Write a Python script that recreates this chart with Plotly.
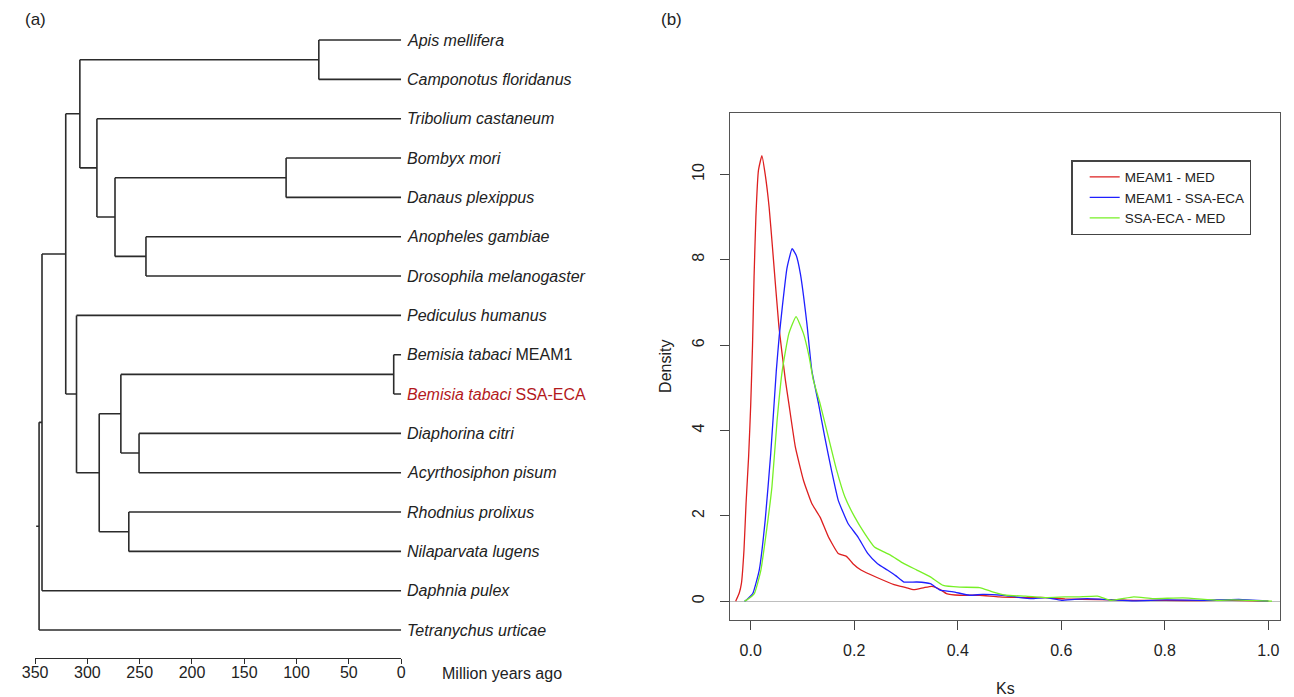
import plotly.graph_objects as go

W, H = 1294, 697
OFF = 8  # page body margin shifts the figure by 8px
FONT = "Liberation Sans, Arial, sans-serif"
INK = "#222222"

# ---- (a) species tree ----
tip_names = ["Apis mellifera", "Camponotus floridanus", "Tribolium castaneum",
             "Bombyx mori", "Danaus plexippus", "Anopheles gambiae",
             "Drosophila melanogaster", "Pediculus humanus",
             "Bemisia tabaci MEAM1", "Bemisia tabaci SSA-ECA",
             "Diaphorina citri", "Acyrthosiphon pisum", "Rhodnius prolixus",
             "Nilaparvata lugens", "Daphnia pulex", "Tetranychus urticae"]
tip_labels = ["<i>Apis mellifera</i>", "<i>Camponotus floridanus</i>",
              "<i>Tribolium castaneum</i>", "<i>Bombyx mori</i>",
              "<i>Danaus plexippus</i>", "<i>Anopheles gambiae</i>",
              "<i>Drosophila melanogaster</i>", "<i>Pediculus humanus</i>",
              "<i>Bemisia tabaci</i> MEAM1", "<i>Bemisia tabaci</i> SSA-ECA",
              "<i>Diaphorina citri</i>", "<i>Acyrthosiphon pisum</i>",
              "<i>Rhodnius prolixus</i>", "<i>Nilaparvata lugens</i>",
              "<i>Daphnia pulex</i>", "<i>Tetranychus urticae</i>"]
highlight = "Bemisia tabaci SSA-ECA"

# internal nodes (children first), ages in million years ago
node_names = ["n1", "n2", "n3", "n4", "n5", "n6", "n7", "n8", "n9", "n10",
              "n11", "n12", "n13", "n14", "n15"]
node_children = [("Apis mellifera", "Camponotus floridanus"),
                 ("Bombyx mori", "Danaus plexippus"),
                 ("Anopheles gambiae", "Drosophila melanogaster"),
                 ("n2", "n3"),
                 ("Tribolium castaneum", "n4"),
                 ("n1", "n5"),
                 ("Bemisia tabaci MEAM1", "Bemisia tabaci SSA-ECA"),
                 ("Diaphorina citri", "Acyrthosiphon pisum"),
                 ("n7", "n8"),
                 ("Rhodnius prolixus", "Nilaparvata lugens"),
                 ("n9", "n10"),
                 ("Pediculus humanus", "n11"),
                 ("n6", "n12"),
                 ("n13", "Daphnia pulex"),
                 ("n14", "Tetranychus urticae")]
node_ages = [78.7, 110, 244, 273.6, 290.9, 307.2, 7.1, 250.6, 268, 260.4,
             288.7, 310.4, 320.7, 343.4, 346.2]
root_edge = 2.8
age_ticks = [350, 300, 250, 200, 150, 100, 50, 0]

# ---- (b) Ks density ----
ks_red = [-0.029, -0.022, -0.018, -0.013, -0.009, -0.004, 0.0, 0.0035, 0.0065,
          0.010, 0.015, 0.0216, 0.028, 0.0356, 0.042, 0.0546, 0.067, 0.0737,
          0.0863, 0.102, 0.118, 0.134, 0.150, 0.169, 0.185, 0.1975, 0.213,
          0.245, 0.277, 0.300, 0.315, 0.335, 0.35, 0.365, 0.378, 0.404, 0.442,
          0.48, 0.531, 0.569, 0.607, 0.67, 0.74, 0.80, 0.87, 0.93, 1.0]
dens_red = [0.0, 0.2, 0.41, 1.2, 2.29, 3.4, 4.6, 6.0, 7.6,
            9.0, 10.1, 10.44, 10.0, 9.23, 8.3, 6.42, 5.18, 4.63,
            3.61, 2.83, 2.29, 1.97, 1.51, 1.12, 1.05, 0.88, 0.73,
            0.55, 0.39, 0.32, 0.27, 0.32, 0.35, 0.28, 0.18, 0.14, 0.14,
            0.10, 0.086, 0.086, 0.055, 0.04, 0.02, 0.02, 0.015, 0.02, 0.0]

ks_blue = [-0.012, -0.009, 0.004, 0.0165, 0.028, 0.0387, 0.0495, 0.055, 0.061,
           0.070, 0.080, 0.088, 0.096, 0.1086, 0.118, 0.131, 0.143, 0.156,
           0.169, 0.188, 0.207, 0.226, 0.245, 0.264, 0.280, 0.296, 0.321,
           0.347, 0.366, 0.391, 0.423, 0.448, 0.486, 0.512, 0.543, 0.569,
           0.60, 0.626, 0.65, 0.70, 0.74, 0.80, 0.87, 0.943, 1.0]
dens_blue = [0.0, 0.02, 0.18, 0.73, 1.90, 3.46, 5.41, 6.2, 6.89,
             7.8, 8.26, 8.1, 7.67, 6.50, 5.41, 4.63, 3.85, 3.07,
             2.37, 1.82, 1.51, 1.12, 0.88, 0.73, 0.60, 0.45, 0.45,
             0.41, 0.26, 0.22, 0.14, 0.16, 0.14, 0.10, 0.06, 0.086,
             0.02, 0.045, 0.06, 0.03, 0.01, 0.03, 0.02, 0.04, 0.0]

ks_green = [-0.012, -0.009, 0.007, 0.0197, 0.029, 0.041, 0.051, 0.061, 0.0737,
            0.0876, 0.102, 0.113, 0.121, 0.134, 0.150, 0.166, 0.182, 0.201,
            0.220, 0.239, 0.258, 0.270, 0.296, 0.321, 0.347, 0.372, 0.404,
            0.442, 0.467, 0.493, 0.531, 0.569, 0.607, 0.632, 0.67, 0.696,
            0.74, 0.778, 0.835, 0.90, 0.93, 0.96, 1.007]
dens_green = [0.0, 0.02, 0.18, 0.73, 1.51, 2.68, 4.24, 5.41, 6.27,
              6.67, 6.27, 5.72, 5.18, 4.63, 3.85, 3.07, 2.44, 1.97,
              1.59, 1.27, 1.15, 1.08, 0.88, 0.73, 0.57, 0.37, 0.33,
              0.32, 0.22, 0.14, 0.12, 0.086, 0.10, 0.10, 0.12, 0.02,
              0.10, 0.06, 0.08, 0.02, 0.03, 0.02, 0.0]

series = [("MEAM1 - MED", ks_red, dens_red, "#dd1f1f"),
          ("MEAM1 - SSA-ECA", ks_blue, dens_blue, "#1f1fff"),
          ("SSA-ECA - MED", ks_green, dens_green, "#77f026")]

# tree layout: tips on integer rows, nodes at the mean of their children
ypos = {name: i + 1 for i, name in enumerate(tip_names)}
xpos = {name: 0.0 for name in tip_names}
for name, (a, b), age in zip(node_names, node_children, node_ages):
    ypos[name] = (ypos[a] + ypos[b]) / 2
    xpos[name] = age

tx, ty = [], []
for name, (a, b), age in zip(node_names, node_children, node_ages):
    tx += [age, age, None]
    ty += [ypos[a], ypos[b], None]
    for c in (a, b):
        tx += [age, xpos[c], None]
        ty += [ypos[c], ypos[c], None]
root = node_names[-1]
tx += [xpos[root] + root_edge, xpos[root], None]
ty += [ypos[root], ypos[root], None]

fig = go.Figure()
fig.add_trace(go.Scatter(x=tx, y=ty, mode="lines", showlegend=False,
                         line=dict(color="#2b2b2b", width=1.6),
                         xaxis="x", yaxis="y", hoverinfo="skip"))

for name, ks, dens, col in series:
    fig.add_trace(go.Scatter(x=ks, y=dens, mode="lines", name=name,
                             line=dict(color=col, width=1.3, shape="spline",
                                       smoothing=0.4),
                             xaxis="x2", yaxis="y2"))

def px(x):
    return (x - OFF) / W

def py(y):
    return 1 - (y - OFF) / H

annotations = []
for name, lab in zip(tip_names, tip_labels):
    annotations.append(dict(x=0, y=ypos[name], xref="x", yref="y", text=lab,
                            showarrow=False, xanchor="left", yanchor="middle",
                            xshift=4,
                            font=dict(size=16, family=FONT,
                                      color="#b3191c" if name == highlight else INK)))
annotations += [
    dict(x=px(10), y=py(20), xref="paper", yref="paper", text="(a)",
         showarrow=False, xanchor="left", yanchor="middle",
         font=dict(size=17, family=FONT, color=INK)),
    dict(x=px(655), y=py(20), xref="paper", yref="paper", text="(b)",
         showarrow=False, xanchor="left", yanchor="middle",
         font=dict(size=17, family=FONT, color=INK)),
    dict(x=px(433), y=py(673), xref="paper", yref="paper", text="Million years ago",
         showarrow=False, xanchor="left", yanchor="middle",
         font=dict(size=16, family=FONT, color=INK)),
    dict(x=px(661), y=py(366), xref="paper", yref="paper", text="Density",
         textangle=-90, showarrow=False, xanchor="center", yanchor="middle",
         font=dict(size=16, family=FONT, color=INK)),
    dict(x=px(1006), y=py(688), xref="paper", yref="paper", text="Ks",
         showarrow=False, xanchor="center", yanchor="middle",
         font=dict(size=16, family=FONT, color=INK)),
]

fig.update_layout(
    width=W, height=H, margin=dict(l=0, r=0, t=0, b=0),
    paper_bgcolor="white", plot_bgcolor="white",
    font=dict(family=FONT, size=16, color=INK),
    xaxis=dict(domain=[px(22.3), px(393.5)], range=[350, 0], anchor="y",
               tickvals=age_ticks, ticks="outside", ticklen=5, tickwidth=1.3,
               tickcolor="#2b2b2b", showline=True, linecolor="#2b2b2b",
               linewidth=1.3, showgrid=False, zeroline=False,
               ticklabelstandoff=-5, tickfont=dict(size=16)),
    yaxis=dict(domain=[py(658), py(20)], range=[16.71, 0.49], visible=False,
               anchor="x"),
    xaxis2=dict(domain=[px(727), px(1285)], range=[-0.04, 1.0229], anchor="y2",
                tickvals=[0, 0.2, 0.4, 0.6, 0.8, 1.0], tickformat=".1f",
                ticks="outside", ticklen=9, tickwidth=1.3, tickcolor="#444",
                showline=True, mirror=True, linecolor="#555", linewidth=1.3,
                showgrid=False, zeroline=False, ticklabelstandoff=7,
                tickfont=dict(size=16)),
    yaxis2=dict(domain=[py(620), py(113)], range=[-0.44, 11.44], anchor="x2",
                tickvals=[0, 2, 4, 6, 8, 10], tickangle=-90,
                ticks="outside", ticklen=9, tickwidth=1.3, tickcolor="#444",
                showline=True, mirror=True, linecolor="#555", linewidth=1.3,
                showgrid=False, zeroline=True, zerolinecolor="#bebebe",
                zerolinewidth=1, ticklabelstandoff=9, tickfont=dict(size=16)),
    legend=dict(x=px(1073), y=py(160), xanchor="left", yanchor="top",
                bordercolor="#444", borderwidth=1.5, bgcolor="white",
                indentation=12,
                font=dict(size=13.5, family=FONT, color=INK)),
    annotations=annotations,
)

fig.write_html("out.html")
